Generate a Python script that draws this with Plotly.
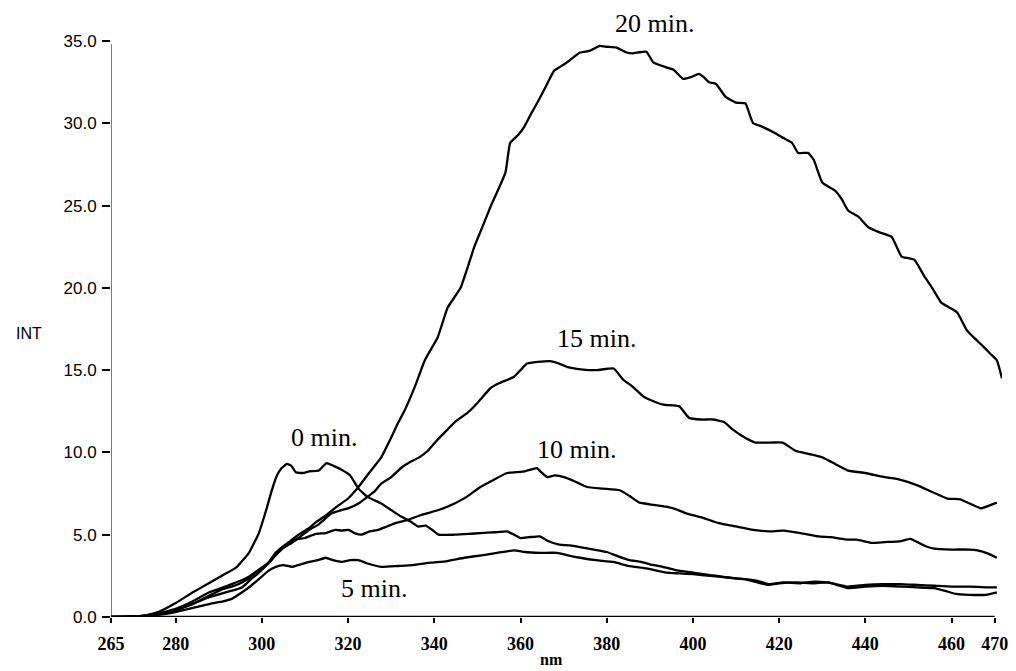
import plotly.graph_objects as go

# Emission spectra (INT vs nm) recorded at successive times
nm_0 = [265, 268, 272, 276, 280, 284, 288, 291, 294, 297, 299.3, 301, 302.3, 303.5, 304.6,
        305.8, 306.8, 307.9, 309.5, 311, 313.2, 315, 316.5, 318.5, 320.5, 322.4, 324.5, 327.7,
        330, 332.3, 334.5, 336.2, 338, 339.5, 341, 344.7, 348, 350.7, 354, 356.9, 358.5, 360,
        362, 364.5, 366.5, 369, 371.5, 373.8, 377, 380, 382.5, 385.3, 388, 390, 393, 396, 400,
        404, 408, 412, 415, 417.5, 420, 424, 428, 431.4, 434, 436, 440, 444, 448.4, 452, 456,
        459, 461, 464, 468, 470.5]
int_0 = [0.0, 0.0, 0.05, 0.3, 0.85, 1.5, 2.1, 2.55, 3.0, 3.9, 5.1, 6.5, 7.7, 8.6, 9.05,
         9.3, 9.2, 8.8, 8.75, 8.85, 8.9, 9.35, 9.2, 8.95, 8.6, 7.8, 7.3, 6.9,
         6.5, 6.1, 5.8, 5.5, 5.55, 5.3, 5.0, 5.0, 5.05, 5.1, 5.15, 5.2, 5.0, 4.8,
         4.85, 4.9, 4.6, 4.4, 4.35, 4.25, 4.1, 3.95, 3.7, 3.45, 3.35, 3.2, 3.05, 2.85, 2.7,
         2.55, 2.4, 2.3, 2.1, 1.95, 2.05, 2.1, 2.05, 2.1, 1.9, 1.75, 1.85, 1.9, 1.85, 1.8, 1.75,
         1.55, 1.4, 1.35, 1.35, 1.5]

nm_5 = [265, 270, 275, 280, 284, 288, 291, 293, 295.4, 297.5, 299.3, 301.5, 303.2, 305, 307,
        309, 311, 313, 314.8, 316.5, 318.5, 320.5, 322.4, 324.5, 327.7, 331.6, 335, 339.2, 343,
        347, 351, 354.6, 358.5, 361, 364.5, 368.5, 371, 373.8, 377.5, 381.6, 385, 389.2, 393.8,
        397, 400, 404, 408, 412, 415, 417.5, 421, 425, 428, 431, 434, 436, 440, 444, 448, 452,
        456, 460, 464, 468, 470.5]
int_5 = [0.0, 0.02, 0.1, 0.3, 0.55, 0.8, 0.95, 1.1, 1.5, 1.9, 2.3, 2.8, 3.05, 3.15, 3.05,
         3.2, 3.35, 3.45, 3.6, 3.45, 3.35, 3.45, 3.45, 3.25, 3.05, 3.1, 3.15, 3.3, 3.4,
         3.6, 3.75, 3.9, 4.05, 3.95, 3.9, 3.9, 3.75, 3.6, 3.45, 3.35, 3.1, 2.95, 2.7,
         2.65, 2.6, 2.5, 2.4, 2.3, 2.2, 2.0, 2.1, 2.05, 2.15, 2.1, 1.95, 1.85, 1.95, 2.0, 2.0, 1.95,
         1.9, 1.85, 1.85, 1.8, 1.8]

nm_10 = [265, 270, 275, 280, 284, 287.8, 291, 293, 295.4, 297.5, 299.3, 301.5, 303.2, 305, 307.9,
         310, 312.5, 314.8, 317, 318.5, 320.1, 321.5, 323.1, 325, 327, 329, 331, 333.9, 336.9,
         339, 341, 344.7, 347.5, 350.7, 353.5, 356.9, 359, 361, 363.8, 364.8, 366.2, 368, 370.1,
         372.5, 375.4, 379, 383, 385.3, 387.6, 390, 393.8, 396, 398.4, 402, 406, 410, 414, 417.5,
         421, 425, 429.1, 432, 436, 438, 441.5, 444.5, 448, 450.5, 452.1, 454, 456, 460, 464, 466,
         468.5, 470.5]
int_10 = [0.0, 0.03, 0.15, 0.4, 0.8, 1.2, 1.45, 1.6, 1.8, 2.3, 2.7, 3.3, 3.9, 4.3, 4.7,
          4.8, 5.05, 5.1, 5.3, 5.25, 5.3, 5.1, 5.0, 5.2, 5.3, 5.5, 5.7, 5.9, 6.2,
          6.35, 6.5, 6.9, 7.3, 7.9, 8.3, 8.75, 8.8, 8.85, 9.05, 8.8, 8.5, 8.6, 8.5,
          8.25, 7.9, 7.8, 7.7, 7.35, 6.95, 6.85, 6.7, 6.55, 6.3, 6.05, 5.7, 5.5, 5.3, 5.2,
          5.25, 5.1, 4.9, 4.85, 4.7, 4.7, 4.5, 4.55, 4.6, 4.75, 4.55, 4.3, 4.15, 4.1, 4.1, 4.05,
          3.85, 3.6]

nm_15 = [265, 270, 275, 280, 284, 287.8, 291, 293, 295.4, 297.5, 299.3, 301.5, 303.2, 305, 306.9,
         309, 311, 313, 316.2, 318.5, 320, 322.4, 324, 326, 327.7, 330, 332.5, 334.6, 336.5,
         338.5, 340.5, 343.1, 345, 347.7, 350, 353, 355, 358.5, 360, 361.5, 364, 366.8, 369,
         370.8, 374, 377.7, 381.6, 383.9, 386, 388.5, 390, 393.1, 396.8, 399.1, 402, 404.6, 407.2,
         409.2, 412, 414.5, 418, 420.8, 423.8, 427, 430, 433, 436, 440, 444.5, 448, 452.1, 455.5,
         459, 462, 466.8, 468.5, 470.5]
int_15 = [0.0, 0.03, 0.15, 0.45, 0.8, 1.3, 1.7, 1.85, 2.1, 2.45, 2.75, 3.25, 3.75, 4.2, 4.5,
          4.9, 5.3, 5.6, 6.3, 6.5, 6.6, 6.9, 7.2, 7.6, 8.1, 8.5, 9.1, 9.45, 9.7,
          10.1, 10.7, 11.4, 11.9, 12.4, 13.0, 13.9, 14.2, 14.6, 15.0, 15.4, 15.5, 15.55, 15.4,
          15.2, 15.05, 15.0, 15.1, 14.4, 14.0, 13.4, 13.2, 12.9, 12.8, 12.1, 12.0, 12.0, 11.85,
          11.4, 10.9, 10.6, 10.6, 10.6, 10.1, 9.9, 9.7, 9.3, 8.9, 8.75, 8.5, 8.35, 8.0, 7.6,
          7.2, 7.15, 6.6, 6.75, 6.95]

nm_20 = [265, 270, 275, 280, 284, 287.8, 291, 293, 295.4, 297, 298.6, 301.6, 304.6, 306.5, 308.5,
         310.9, 312.5, 315, 317.1, 320, 322.4, 325, 327.7, 330, 331.6, 333.2, 335.5, 337.8, 340.8,
         343.1, 346.1, 349.3, 351, 353, 356.5, 357.6, 359.5, 360.9, 362.5, 363.8, 366, 367.8, 369,
         370.8, 373.8, 376, 378.4, 380, 382.3, 384.6, 386, 389.2, 390.8, 393.8, 395.5, 397.7,
         399.5, 401.4, 402.5, 403.7, 405.3, 407.6, 410, 412.2, 413.2, 414, 416, 419.1, 421, 423,
         424.4, 426.7, 428, 430, 433, 434.5, 436, 438.5, 440.6, 443, 446.1, 448.4, 450, 451.4,
         453.7, 455.5, 457.6, 459.5, 461.3, 463.6, 465.5, 467.5, 469, 470.5, 471.7]
int_20 = [0.0, 0.03, 0.15, 0.5, 0.95, 1.5, 1.8, 2.0, 2.25, 2.45, 2.75, 3.3, 4.2, 4.6, 5.0,
          5.4, 5.75, 6.2, 6.65, 7.2, 7.9, 8.8, 9.7, 10.9, 11.8, 12.6, 14.0, 15.6, 17.0,
          18.8, 20.0, 22.5, 23.6, 24.9, 27.0, 28.8, 29.3, 29.8, 30.6, 31.2, 32.3, 33.2, 33.4,
          33.7, 34.3, 34.4, 34.7, 34.65, 34.6, 34.3, 34.25, 34.35, 33.7, 33.4, 33.25, 32.7,
          32.8, 33.0, 32.8, 32.5, 32.4, 31.6, 31.25, 31.2, 30.5, 30.0, 29.8, 29.4, 29.1, 28.8,
          28.2, 28.2, 27.8, 26.4, 25.9, 25.4, 24.7, 24.3, 23.7, 23.4, 23.1, 21.9, 21.8, 21.7,
          20.7, 20.0, 19.1, 18.8, 18.5, 17.4, 16.9, 16.4, 16.0, 15.6, 14.5]

series = [(nm_0, int_0), (nm_5, int_5), (nm_10, int_10), (nm_15, int_15), (nm_20, int_20)]

x_ticks = [265, 280, 300, 320, 340, 360, 380, 400, 420, 440, 460, 470]
y_ticks = [0, 5, 10, 15, 20, 25, 30, 35]
y_ticktext = ["0.0", "5.0", "10.0", "15.0", "20.0", "25.0", "30.0", "35.0"]

# curve labels: (text, x, y)
labels = [("15 min.", 377.7, 16.95), ("10 min.", 373.1, 10.2),
          ("0 min.", 314.3, 10.9), ("5 min.", 326.1, 1.76)]

fig = go.Figure()
for xs, ys in series:
    fig.add_trace(go.Scatter(x=xs, y=ys, mode="lines", cliponaxis=False,
                             line=dict(color="black", width=2.3, shape="spline", smoothing=0.4),
                             showlegend=False))

serif = "Liberation Serif"
sans = "Liberation Sans"
label_font = dict(family=serif, size=26, color="black")

for text, lx, ly in labels:
    fig.add_annotation(x=lx, y=ly, text=text, showarrow=False, font=label_font)
# label of the top curve sits above the plotting area
fig.add_annotation(x=391.0, xref="x", y=1.031, yref="paper", yanchor="middle",
                   text="20 min.", showarrow=False, font=label_font)

fig.add_annotation(xref="paper", yref="paper", x=-0.0925, y=0.492, xanchor="center",
                   yanchor="middle", text="INT", showarrow=False,
                   font=dict(family=sans, size=16, color="black"))
fig.add_annotation(x=367.3, xref="x", yref="paper", y=-0.074, yanchor="middle",
                   xanchor="center", text="nm", showarrow=False,
                   font=dict(family=serif, size=16, color="black", weight="bold"))

# axis lines
fig.add_shape(type="line", x0=265, x1=470, y0=0, y1=0, xref="x", yref="y",
              line=dict(color="black", width=2.5), layer="below")
fig.add_shape(type="line", x0=265, x1=265, y0=0, y1=34.8, xref="x", yref="y",
              line=dict(color="#222", width=1.2), layer="below")

fig.update_layout(
    width=1016, height=671,
    margin=dict(l=111, r=8, t=41, b=54),
    plot_bgcolor="white", paper_bgcolor="white",
    xaxis=dict(range=[265, 471.7], tickvals=x_ticks, ticks="outside", ticklen=5,
               tickwidth=1.5, tickcolor="black", showgrid=False, zeroline=False,
               showline=False, ticklabelstandoff=5,
               tickfont=dict(family=serif, size=18, color="black", weight="bold")),
    yaxis=dict(range=[0, 35], tickvals=y_ticks, ticktext=y_ticktext, ticks="outside",
               ticklen=8, tickwidth=1.5, tickcolor="black", showgrid=False, zeroline=False,
               showline=False, ticklabelstandoff=2,
               tickfont=dict(family=sans, size=17, color="black")),
)

fig.write_html("out.html")
